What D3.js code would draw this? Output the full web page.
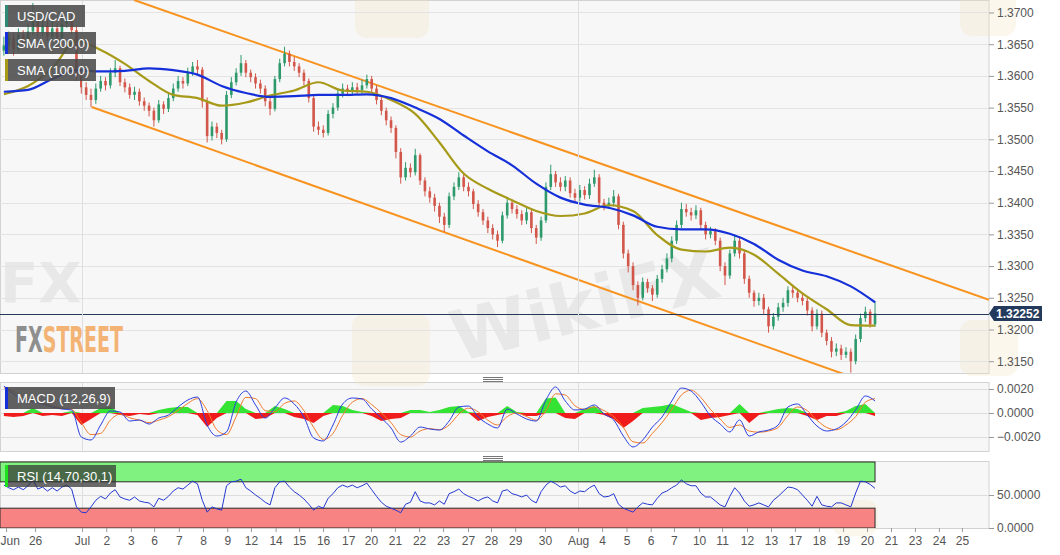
<!DOCTYPE html>
<html><head><meta charset="utf-8">
<script src="https://cdn.jsdelivr.net/npm/d3@7"></script>
<style>html,body{margin:0;padding:0;background:#fff;}svg{display:block;font-family:"Liberation Sans",Arial,sans-serif;}</style>
</head><body><svg id="c" width="1060" height="555"></svg>
<script>
// ---------- DATA ----------
const firstOpen = 1.3640;
const barStart = -3.23, barStep = 0.2; // time of first bar and bar spacing (trading-day units)
const closes = [1.3648,1.3660,1.3642,1.3665,1.3652,1.3670,1.3690,1.3668,1.3680,1.3662,
1.3675,1.3660,1.3682,1.3690,1.3672,1.3600,1.3582,1.3570,1.3562,1.3580,
1.3592,1.3585,1.3605,1.3612,1.3590,1.3582,1.3570,1.3575,1.3560,1.3553,
1.3545,1.3530,1.3555,1.3548,1.3565,1.3580,1.3592,1.3588,1.3605,1.3615,
1.3610,1.3560,1.3505,1.3520,1.3510,1.3500,1.3570,1.3590,1.3605,1.3620,
1.3605,1.3598,1.3588,1.3580,1.3560,1.3548,1.3595,1.3620,1.3635,1.3622,
1.3615,1.3605,1.3592,1.3565,1.3520,1.3515,1.3510,1.3540,1.3550,1.3572,
1.3580,1.3575,1.3582,1.3578,1.3585,1.3595,1.3580,1.3562,1.3545,1.3530,
1.3518,1.3480,1.3440,1.3455,1.3448,1.3475,1.3435,1.3418,1.3408,1.3395,
1.3378,1.3365,1.3410,1.3425,1.3440,1.3425,1.3418,1.3398,1.3385,1.3372,
1.3360,1.3350,1.3340,1.3380,1.3400,1.3390,1.3382,1.3372,1.3385,1.3360,
1.3345,1.3372,1.3425,1.3445,1.3432,1.3425,1.3435,1.3415,1.3408,1.3420,
1.3412,1.3430,1.3440,1.3400,1.3395,1.3400,1.3410,1.3365,1.3320,1.3300,
1.3270,1.3250,1.3275,1.3265,1.3255,1.3280,1.3295,1.3312,1.3340,1.3365,
1.3390,1.3385,1.3380,1.3388,1.3365,1.3350,1.3355,1.3340,1.3300,1.3285,
1.3320,1.3340,1.3320,1.3280,1.3258,1.3245,1.3250,1.3232,1.3205,1.3220,
1.3235,1.3242,1.3262,1.3258,1.3250,1.3245,1.3230,1.3205,1.3225,1.3195,
1.3182,1.3165,1.3170,1.3160,1.3165,1.3150,1.3185,1.3218,1.3228,1.3208,
1.32252];
const highs = [1.3662,1.3670,1.3668,1.3675,1.3672,1.3682,1.3715,1.3698,1.3692,1.3688,
1.3686,1.3683,1.3693,1.3702,1.3698,1.3678,1.3606,1.3590,1.3580,1.3588,
1.3600,1.3598,1.3612,1.3625,1.3616,1.3596,1.3588,1.3583,1.3580,1.3566,
1.3558,1.3550,1.3562,1.3560,1.3572,1.3588,1.3600,1.3598,1.3613,1.3622,
1.3625,1.3614,1.3566,1.3528,1.3526,1.3515,1.3576,1.3598,1.3612,1.3633,
1.3625,1.3610,1.3604,1.3594,1.3585,1.3566,1.3600,1.3627,1.3646,1.3640,
1.3630,1.3620,1.3610,1.3596,1.3570,1.3528,1.3522,1.3546,1.3557,1.3580,
1.3588,1.3586,1.3590,1.3589,1.3594,1.3602,1.3600,1.3585,1.3568,1.3550,
1.3536,1.3522,1.3486,1.3464,1.3462,1.3485,1.3478,1.3440,1.3425,1.3414,
1.3400,1.3384,1.3416,1.3432,1.3448,1.3445,1.3432,1.3422,1.3404,1.3390,
1.3378,1.3366,1.3356,1.3386,1.3408,1.3405,1.3396,1.3388,1.3392,1.3390,
1.3365,1.3378,1.3432,1.3460,1.3450,1.3440,1.3442,1.3440,1.3422,1.3428,
1.3426,1.3438,1.3452,1.3445,1.3406,1.3408,1.3420,1.3414,1.3370,1.3326,
1.3306,1.3276,1.3282,1.3280,1.3270,1.3286,1.3302,1.3320,1.3347,1.3372,
1.3400,1.3398,1.3392,1.3396,1.3392,1.3370,1.3362,1.3360,1.3345,1.3306,
1.3326,1.3350,1.3345,1.3324,1.3285,1.3262,1.3258,1.3256,1.3236,1.3226,
1.3242,1.3250,1.3268,1.3268,1.3264,1.3256,1.3250,1.3235,1.3232,1.3230,
1.3200,1.3188,1.3178,1.3176,1.3172,1.3170,1.3192,1.3225,1.3236,1.3232,
1.3245];
const lows = [1.3632,1.3640,1.3632,1.3638,1.3645,1.3648,1.3664,1.3660,1.3662,1.3655,
1.3656,1.3652,1.3655,1.3676,1.3665,1.3592,1.3572,1.3562,1.3551,1.3556,
1.3575,1.3577,1.3580,1.3598,1.3584,1.3574,1.3564,1.3562,1.3553,1.3545,
1.3536,1.3520,1.3526,1.3540,1.3543,1.3560,1.3575,1.3580,1.3584,1.3600,
1.3602,1.3550,1.3495,1.3498,1.3502,1.3492,1.3496,1.3565,1.3585,1.3600,
1.3598,1.3590,1.3580,1.3572,1.3552,1.3538,1.3544,1.3590,1.3615,1.3615,
1.3608,1.3598,1.3585,1.3558,1.3512,1.3507,1.3503,1.3506,1.3533,1.3545,
1.3566,1.3568,1.3570,1.3570,1.3572,1.3580,1.3573,1.3555,1.3538,1.3522,
1.3510,1.3470,1.3430,1.3435,1.3440,1.3443,1.3428,1.3410,1.3400,1.3386,
1.3368,1.3354,1.3360,1.3404,1.3420,1.3418,1.3410,1.3390,1.3378,1.3365,
1.3352,1.3342,1.3330,1.3336,1.3375,1.3383,1.3375,1.3365,1.3366,1.3352,
1.3335,1.3340,1.3368,1.3420,1.3425,1.3418,1.3418,1.3408,1.3400,1.3402,
1.3405,1.3406,1.3425,1.3394,1.3388,1.3390,1.3394,1.3358,1.3312,1.3290,
1.3262,1.3238,1.3246,1.3258,1.3245,1.3250,1.3274,1.3290,1.3306,1.3335,
1.3360,1.3378,1.3372,1.3374,1.3358,1.3342,1.3344,1.3333,1.3292,1.3270,
1.3280,1.3315,1.3312,1.3272,1.3250,1.3236,1.3238,1.3224,1.3195,1.3200,
1.3214,1.3228,1.3236,1.3250,1.3243,1.3238,1.3222,1.3197,1.3200,1.3188,
1.3175,1.3156,1.3158,1.3152,1.3155,1.3132,1.3145,1.3180,1.3212,1.3203,
1.3204];
// moving averages, one value every 5 bars (one per day)
const sma200 = [1.3575,1.3578,1.3595,1.3609,1.3607,1.3608,1.3612,1.3609,1.3602,1.3584,
1.3573,1.3567,1.3568,1.3570,1.3570,1.3571,1.3565,1.3550,1.3532,1.3506,
1.3481,1.3459,1.3430,1.3408,1.3397,1.3392,1.3380,1.3362,1.3358,1.3358,
1.3351,1.3335,1.3310,1.3293,1.3284,1.3268,1.3243];
const sma100 = [1.3571,1.3584,1.3612,1.3655,1.3641,1.3619,1.3592,1.3570,1.3565,1.3553,
1.3558,1.3569,1.3577,1.3590,1.3577,1.3575,1.3562,1.3540,1.3495,1.3446,
1.3422,1.3404,1.3387,1.3379,1.3383,1.3396,1.3387,1.3349,1.3326,1.3323,
1.3329,1.3318,1.3288,1.3257,1.3232,1.3207,1.3206];
// MACD, one value every 2 bars
const macdLine = [0.00225,0.00158,0.00108,0.00092,0.00075,0.0005,0.00033,0.00025,-0.002,-0.00225,
-0.001,0.00017,0.00008,-0.00067,-0.00058,-0.00092,-0.00042,-0.00017,0.0005,0.00108,
0.00133,-0.001,-0.00192,-0.00158,0.00092,0.00183,0.00067,-0.00042,0.00042,0.00125,
0.00075,-0.00033,-0.00208,-0.00233,-0.001,0.00075,0.00125,0.00117,0.00033,-0.00042,
-0.00125,-0.00242,-0.00192,-0.00117,-0.00133,-0.00142,-0.00067,0.0005,0.00058,-0.00033,
-0.00092,-0.00125,0.00033,-0.00008,-0.0005,-0.00067,0.00108,0.00217,0.001,0.00025,
0.00033,0.00067,-0.00008,-0.00058,-0.00192,-0.00283,-0.00225,-0.00117,-0.00033,0.001,
0.00208,0.00183,0.00092,-0.00025,-0.00092,-0.00158,-0.00058,-0.00192,-0.00158,-0.00142,
-0.001,0.0005,0.00075,-0.00017,-0.00108,-0.0015,-0.00133,-0.00075,0.00025,0.00142,
0.001];
const signalLine = [0.0021,0.0018,0.0013,0.0010,0.0008,0.0006,0.0004,0.0003,-0.0008,-0.0018,
-0.0017,-0.0006,-0.0001,-0.0004,-0.0006,-0.0008,-0.0006,-0.0003,0.0002,0.0008,
0.0012,0.0002,-0.0014,-0.0018,-0.0003,0.0013,0.0012,0.0002,0.0001,0.0008,
0.0010,0.0002,-0.0012,-0.0022,-0.0017,-0.0002,0.0009,0.0012,0.0007,0.0000,
-0.0008,-0.0018,-0.0020,-0.0015,-0.0013,-0.0014,-0.0010,-0.0001,0.0004,0.0001,
-0.0006,-0.0010,-0.0003,0.0000,-0.0003,-0.0006,0.0002,0.0016,0.0015,0.0006,
0.0003,0.0005,0.0002,-0.0003,-0.0012,-0.0024,-0.0025,-0.0017,-0.0008,0.0003,
0.0015,0.0019,0.0013,0.0003,-0.0005,-0.0012,-0.0010,-0.0015,-0.0016,-0.0015,
-0.0012,-0.0002,0.0005,0.0002,-0.0006,-0.0012,-0.0014,-0.0010,-0.0003,0.0009,
0.0012];
const macdHist = [-0.00025,-0.00033,-0.00025,0.00042,-0.00025,-0.00017,-0.00025,0.00017,-0.001,-0.0005,
0.00042,0.0005,-0.00017,-0.00025,-0.00008,-0.00017,0.00025,0.00042,0.0005,0.0005,
-0.00017,-0.00117,-0.00042,0.001,0.001,0.00033,-0.0005,-0.00042,0.00058,0.00033,
-0.00033,-0.0005,-0.00083,-0.00025,0.00067,0.00058,0.00025,0.00008,-0.00025,-0.00067,
-0.0005,-0.00042,0.00025,0.00025,0.00008,0.00025,0.0005,0.00058,0.00008,-0.00067,
-0.00033,-0.00017,0.00058,0.00008,-0.00025,-0.00025,0.0012,0.0013,-0.00042,-0.0005,
0.00033,0.00058,-0.00017,-0.0005,-0.00125,-0.00067,0.00042,0.0005,0.00058,0.00075,
0.00042,0.00008,-0.00058,-0.00042,-0.00033,-0.00017,0.00075,-0.00083,-0.00017,0.00017,
0.00033,0.00042,0.00033,-0.00025,-0.00058,-0.00025,-0.00025,0.00017,0.00058,0.00075,
-0.00025];
// RSI, one value per bar
const rsi = [65,61,58,62,58,64,73,59,62,56,
61,56,62,65,59,32,24,23,32,42,
48,44,53,58,47,44,42,47,41,39,
38,32,45,42,48,56,61,59,65,71,
67,42,24,32,29,27,64,70,71,74,
61,56,50,45,39,35,61,70,71,62,
55,50,44,36,27,33,30,45,52,61,
65,62,65,61,64,68,58,48,39,33,
30,27,23,36,39,55,41,38,38,35,
41,36,52,55,59,52,48,45,41,45,
47,41,38,56,58,52,50,47,50,42,
38,55,65,71,67,62,64,56,52,56,
55,61,65,52,47,48,52,36,30,27,
24,32,38,36,35,45,53,56,61,65,
73,67,64,64,53,47,47,41,35,32,
48,61,53,41,33,35,38,35,32,42,
48,55,62,61,58,50,42,33,48,35,
33,32,38,38,35,32,53,71,70,66,
60];
const priceTicks = [1.3150,1.3200,1.3250,1.3300,1.3350,1.3400,1.3450,1.3500,1.3550,1.3600,1.3650,1.3700];
const macdTicks = [0.0020,0.0000,-0.0020];
const rsiTicks = [50,0];
const tickDays = [-3.14,-1.94,0,1,2.02,2.98,4,5,6,6.98,8,8.97,9.96,11,11.94,12.93,13.93,14.92,15.95,16.9,17.9,19.13,20.5,21.49,22.5,23.5,24.46,25.5,26.45,27.48,28.47,29.46,30.45,31.45,32.44,33.43,34.42,35.41,36.36];
const tickLabels = ["Jun","26","Jul","2","3","6","7","8","9","12","14","15","16","17","20","21","22","23","27","28","29","30","Aug","4","5","6","7","10","11","12","13","17","18","19","20","21","23","24","25"];
const monthLabels = ["Jul","Aug"];
const upperChannel = [[2.15,1.37197],[37.48,1.3247]];
const lowerChannel = [[0.40,1.3551],[31.53,1.3129]];
const lastPrice = 1.32252;
const rsiBands = [[70,100,"#80f27f"],[0,30,"#f78383"]];

// ---------- LAYOUT ----------
const svg = d3.select("#c");
const PR = 989;
const P = {main:{top:0,bottom:373}, macd:{top:382,bottom:451}, rsi:{top:461,bottom:528}};
const x = d3.scaleLinear().domain([-3.39, 37.48]).range([0, PR]);
const y = d3.scaleLinear().domain([1.31314, 1.37197]).range([P.main.bottom, P.main.top]);
const ym = d3.scaleLinear().domain([-0.003167, 0.002583]).range([P.macd.bottom, P.macd.top]);
const yr = d3.scaleLinear().domain([0, 101.5]).range([P.rsi.bottom, P.rsi.top]);
const tBar = i => barStart + i*barStep;
const lastT = tBar(closes.length-1);

const defs = svg.append("defs");
Object.entries(P).forEach(([k,p])=>{
  svg.append("rect").attr("x",0.5).attr("y",p.top+0.5).attr("width",PR-0.5).attr("height",p.bottom-p.top)
    .attr("fill","#f7f7f7").attr("stroke","#d2d2d2");
  defs.append("clipPath").attr("id","clip-"+k).append("rect").attr("x",0).attr("y",p.top).attr("width",PR).attr("height",p.bottom-p.top);
});
// two-colour fill for the FXSTREET logo
const lgr = defs.append("linearGradient").attr("id","fxs").attr("gradientUnits","userSpaceOnUse")
  .attr("x1",15).attr("x2",123).attr("y1",0).attr("y2",0);
[[0,"#8e8e8e"],[0.262,"#8e8e8e"],[0.262,"#f2b374"],[1,"#f2b374"]].forEach(s=>
  lgr.append("stop").attr("offset",s[0]).attr("stop-color",s[1]));

// watermarks (faint)
const wm = svg.append("g");
[[355,-10,74,48],[352,314,78,72],[960,-8,56,44],[960,320,58,56],[832,500,46,36]].forEach(r=>{
  wm.append("rect").attr("x",r[0]).attr("y",r[1]).attr("width",r[2]).attr("height",r[3]).attr("rx",12)
    .attr("fill","#f3e4c0").attr("opacity",0.28);
});
wm.append("text").attr("x",0).attr("y",302).attr("font-size",56).attr("font-weight","bold")
  .attr("font-family","DejaVu Sans").attr("fill","#dcdcdc").attr("opacity",0.55).text("FX");
wm.append("text").attr("transform","translate(458,362) rotate(-14)").attr("font-size",70).attr("font-weight","bold")
  .attr("font-family","DejaVu Sans").attr("fill","#d2d2d2").attr("opacity",0.4).text("WikiFX");

// grids
const gm = svg.append("g").attr("clip-path","url(#clip-main)");
gm.selectAll("line.h").data(priceTicks).join("line").attr("x1",0).attr("x2",PR)
  .attr("y1",d=>Math.round(y(d))+0.5).attr("y2",d=>Math.round(y(d))+0.5).attr("stroke","#e3e3e3");
svg.append("g").selectAll("line").data(macdTicks).join("line").attr("x1",0).attr("x2",PR)
  .attr("y1",d=>Math.round(ym(d))+0.5).attr("y2",d=>Math.round(ym(d))+0.5).attr("stroke","#dddddd");
svg.append("g").selectAll("line").data([50]).join("line").attr("x1",0).attr("x2",PR)
  .attr("y1",d=>Math.round(yr(d))+0.5).attr("y2",d=>Math.round(yr(d))+0.5).attr("stroke","#dddddd");
const monthDays = tickDays.filter((d,i)=>monthLabels.includes(tickLabels[i]));
Object.values(P).forEach(p=>{
  svg.append("g").selectAll("line").data(monthDays).join("line")
    .attr("x1",d=>Math.round(x(d))+0.5).attr("x2",d=>Math.round(x(d))+0.5)
    .attr("y1",p.top+1).attr("y2",p.bottom).attr("stroke","#dedede");
});

// FXSTREET logo
svg.append("text").attr("x",15).attr("y",352).attr("font-size",35).attr("font-weight","bold")
  .attr("font-family","DejaVu Sans Condensed").attr("textLength",108).attr("lengthAdjust","spacingAndGlyphs")
  .attr("fill","url(#fxs)").text("FXSTREET");

// channel lines
gm.selectAll("path.ch").data([upperChannel, lowerChannel]).join("path")
  .attr("d", d3.line().x(d=>x(d[0])).y(d=>y(d[1])))
  .attr("stroke","#f7931e").attr("stroke-width",2).attr("fill","none");

// candles
const bars = closes.map((c,i)=>({t:tBar(i), o: i? closes[i-1] : firstOpen, c, h:highs[i], l:lows[i]}));
const up = "#2e9a6c", dn = "#d2564a";
const cg = gm.append("g");
cg.selectAll("line").data(bars).join("line")
  .attr("x1",d=>x(d.t)).attr("x2",d=>x(d.t)).attr("y1",d=>y(d.h)).attr("y2",d=>y(d.l))
  .attr("stroke",d=>d.c>=d.o?up:dn).attr("stroke-width",1);
cg.selectAll("rect").data(bars).join("rect")
  .attr("x",d=>x(d.t)-1.3).attr("width",2.6)
  .attr("y",d=>y(Math.max(d.o,d.c))).attr("height",d=>Math.max(1,Math.abs(y(d.o)-y(d.c))))
  .attr("fill",d=>d.c>=d.o?up:dn);

// SMAs
const smaLine = d3.line().x((d,j)=>x(tBar(5*j))).y(d=>y(d)).curve(d3.curveMonotoneX);
gm.append("path").attr("d",smaLine(sma100)).attr("fill","none").attr("stroke","#a69a18").attr("stroke-width",2.2);
gm.append("path").attr("d",smaLine(sma200)).attr("fill","none").attr("stroke","#1530d8").attr("stroke-width",2.2);

// last price line
gm.append("line").attr("x1",0).attr("x2",PR).attr("y1",Math.round(y(lastPrice))+0.5).attr("y2",Math.round(y(lastPrice))+0.5)
  .attr("stroke","#243a58").attr("stroke-width",1);

// MACD
const gmac = svg.append("g").attr("clip-path","url(#clip-macd)");
const mx = (d,k)=>x(tBar(2*k));
gmac.append("path").datum(macdHist).attr("fill","#35e335")
  .attr("d",d3.area().x(mx).y0(ym(0)).y1(d=>ym(Math.max(0,d))));
gmac.append("path").datum(macdHist).attr("fill","#f01c1c")
  .attr("d",d3.area().x(mx).y0(ym(0)).y1(d=>ym(Math.min(0,d))));
gmac.append("path").datum(signalLine).attr("fill","none").attr("stroke","#f07a2a").attr("stroke-width",1)
  .attr("d",d3.line().x(mx).y(d=>ym(d)).curve(d3.curveMonotoneX));
gmac.append("path").datum(macdLine).attr("fill","none").attr("stroke","#2a3ee0").attr("stroke-width",1)
  .attr("d",d3.line().x(mx).y(d=>ym(d)).curve(d3.curveMonotoneX));

// RSI
const grsi = svg.append("g").attr("clip-path","url(#clip-rsi)");
grsi.selectAll("rect").data(rsiBands).join("rect")
  .attr("x",0).attr("width",x(lastT)).attr("y",d=>yr(d[1])).attr("height",d=>yr(d[0])-yr(d[1]))
  .attr("fill",d=>d[2]).attr("stroke","#2a2a2a").attr("stroke-width",1);
grsi.append("path").datum(rsi).attr("fill","none").attr("stroke","#2438d0").attr("stroke-width",1)
  .attr("d",d3.line().x((d,i)=>x(tBar(i))).y(d=>yr(d)));

// axes
function styleAxis(g){
  g.attr("font-family","Liberation Sans, Arial, sans-serif").attr("font-size",12);
  g.select(".domain").remove();
  g.selectAll(".tick line").attr("stroke","#9a9a9a");
  g.selectAll(".tick text").attr("fill","#555");
}
svg.append("g").attr("transform",`translate(${PR},0)`)
  .call(d3.axisRight(y).tickValues(priceTicks).tickFormat(d3.format(".4f")).tickSize(5).tickPadding(3)).call(styleAxis);
svg.append("g").attr("transform",`translate(${PR},0)`)
  .call(d3.axisRight(ym).tickValues(macdTicks).tickFormat(d3.format(".4f")).tickSize(5).tickPadding(3)).call(styleAxis);
svg.append("g").attr("transform",`translate(${PR},0)`)
  .call(d3.axisRight(yr).tickValues(rsiTicks).tickFormat(d3.format(".4f")).tickSize(5).tickPadding(3)).call(styleAxis);
const xAxisG = svg.append("g").attr("transform",`translate(0,${P.rsi.bottom})`)
  .call(d3.axisBottom(x).tickValues(tickDays).tickFormat((d,i)=>tickLabels[i]).tickSize(4).tickPadding(4)).call(styleAxis);
// keep the first label inside the picture
xAxisG.selectAll(".tick text").filter((d,i)=>i===0).attr("text-anchor","start").attr("x",-x(tickDays[0]));

// last price tag
const ly = y(lastPrice);
svg.append("path").attr("d",`M${PR},${ly} L${PR+5},${ly-7.5} L${PR+53},${ly-7.5} L${PR+53},${ly+7.5} L${PR+5},${ly+7.5} Z`)
  .attr("fill","#233a5c");
svg.append("text").attr("x",PR+7).attr("y",ly+4.5).attr("fill","#fff").attr("font-size",12).attr("font-weight","bold")
  .text(d3.format(".5f")(lastPrice));

// legends
const legends = [
  {y:5, w:80, label:"USD/CAD", c:"#2e8a74", bg:"rgba(75,75,75,0.88)"},
  {y:32, w:91, label:"SMA (200,0)", c:"#1530d8", bg:"rgba(75,75,75,0.88)"},
  {y:59, w:91, label:"SMA (100,0)", c:"#a69a18", bg:"rgba(75,75,75,0.88)"},
  {y:387, w:110, label:"MACD (12,26,9)", c:"#1530d8", bg:"rgba(75,75,75,0.88)"},
  {y:465, w:111, label:"RSI (14,70,30,1)", c:"#1ee01e", bg:"rgba(50,50,50,0.72)"}
];
const lg = svg.append("g").selectAll("g").data(legends).join("g").attr("transform",d=>`translate(5,${d.y})`);
lg.append("rect").attr("width",d=>d.w).attr("height",22).attr("fill",d=>d.bg);
lg.append("rect").attr("width",3).attr("height",22).attr("fill",d=>d.c);
lg.append("text").attr("x",12).attr("y",16).attr("fill","#fff").attr("font-size",13).text(d=>d.label);

// panel resize handles
[377, 456].forEach(hy=>{
  svg.append("g").selectAll("line").data([0,2,4]).join("line")
    .attr("x1",483).attr("x2",503).attr("y1",d=>hy+d+0.5).attr("y2",d=>hy+d+0.5).attr("stroke","#777");
});
</script></body></html>
